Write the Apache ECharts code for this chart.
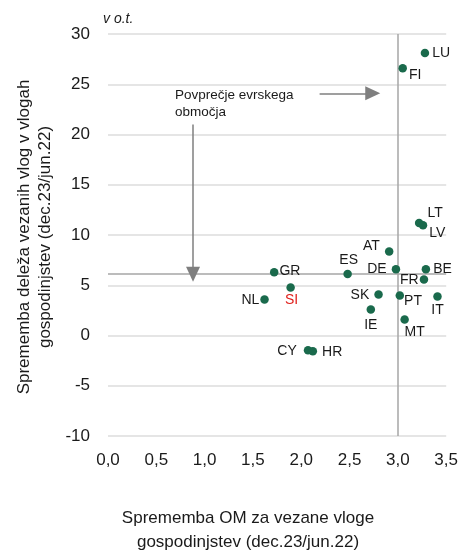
<!DOCTYPE html>
<html>
<head>
<meta charset="utf-8">
<script src="https://cdn.jsdelivr.net/npm/echarts@6/dist/echarts.min.js"></script>
<style>
html,body{margin:0;padding:0;background:#fff;}
#main{width:461px;height:553px;}
</style>
</head>
<body>
<div id="main"></div>
<script>
// ---- data ----
const countries = ['LU','FI','LT','LV','AT','ES','DE','BE','FR','GR','SI','NL','SK','PT','IT','IE','MT','CY','HR'];
const omChange = [3.28,3.05,3.22,3.26,2.91,2.48,2.98,3.29,3.27,1.72,1.89,1.62,2.80,3.02,3.41,2.72,3.07,2.07,2.12];
const shareChange = [28.1,26.6,11.2,10.97,8.36,6.13,6.6,6.6,5.57,6.3,4.78,3.58,4.08,3.98,3.88,2.59,1.59,-1.46,-1.56];
const avgOM = 3.0;
const avgShare = 6.1;
const xTickLabels = ['0,0','0,5','1,0','1,5','2,0','2,5','3,0','3,5'];
const yTickLabels = ['-10','-5','0','5','10','15','20','25','30'];
const xTitle = 'Sprememba OM za vezane vloge\ngospodinjstev (dec.23/jun.22)';
const yTitle = 'Sprememba deleža vezanih vlog v vlogah\ngospodinjstev (dec.23/jun.22)';
const unitLabel = 'v o.t.';
const annotation = 'Povprečje evrskega\nobmočja';
// annotation arrow endpoints (data coordinates)
const arrowDown = [[0.88, 21.0], [0.88, 6.1]];
const arrowRight = [[2.19, 24.1], [2.74, 24.1]];

// ---- styling / label placement ----
const FONT = 'Liberation Sans, Arial, sans-serif';
const labelPlace = {
  LU:{position:'right',distance:3,offset:[0,0]},
  FI:{position:'right',distance:2,offset:[0,7]},
  LT:{position:'right',distance:4,offset:[0,-10]},
  LV:{position:'right',distance:2,offset:[0,8]},
  AT:{position:'left',distance:5,offset:[0,-5]},
  ES:{position:'top',distance:3,offset:[1,0]},
  DE:{position:'left',distance:5,offset:[0,0]},
  BE:{position:'right',distance:3,offset:[0,0]},
  FR:{position:'left',distance:1,offset:[0,1]},
  GR:{position:'right',distance:1,offset:[0,-1]},
  SI:{position:'bottom',distance:1,offset:[1,0]},
  NL:{position:'left',distance:1,offset:[0,1]},
  SK:{position:'left',distance:5,offset:[0,1]},
  PT:{position:'right',distance:0,offset:[0,6]},
  IT:{position:'bottom',distance:2,offset:[0,0]},
  IE:{position:'bottom',distance:4,offset:[0,0]},
  MT:{position:'bottom',distance:1,offset:[10,0]},
  CY:{position:'left',distance:7,offset:[0,1]},
  HR:{position:'right',distance:5,offset:[0,1]}
};

const points = countries.map((c,i)=>{
  const p = labelPlace[c];
  return {
    name:c,
    value:[omChange[i], shareChange[i]],
    label:{show:true, formatter:c, position:p.position, distance:p.distance, offset:p.offset,
      color: c==='SI' ? '#e0201c' : '#1a1a1a'}
  };
});

const chart = echarts.init(document.getElementById('main'), null, {renderer:'canvas'});
const arrowColor = '#7f7f7f';
chart.setOption({
  animation:false,
  backgroundColor:'#fff',
  grid:{left:108, right:13, top:34, bottom:117},
  xAxis:{
    type:'value', min:0, max:3.5, interval:0.5,
    axisLine:{show:false}, axisTick:{show:false}, splitLine:{show:false},
    axisLabel:{margin:16, fontSize:17, fontFamily:FONT, color:'#1a1a1a',
      formatter:(v)=>xTickLabels[Math.round(v/0.5)]}
  },
  yAxis:{
    type:'value', min:-10, max:30, interval:5,
    axisLine:{show:false}, axisTick:{show:false},
    splitLine:{show:true, lineStyle:{color:'#dcdcdc', width:1.5}},
    axisLabel:{margin:18, fontSize:17, fontFamily:FONT, color:'#1a1a1a',
      formatter:(v)=>yTickLabels[Math.round((v+10)/5)]}
  },
  series:[
    {
      type:'scatter', symbol:'circle', symbolSize:8.5,
      itemStyle:{color:'#1a6a4c', opacity:1},
      label:{fontSize:14, fontFamily:FONT},
      data:points,
      z:5,
      markLine:{
        silent:true, symbol:['none','none'], label:{show:false},
        lineStyle:{color:'#a6a6a6', width:1.5, type:'solid'},
        data:[{xAxis:avgOM},{yAxis:avgShare}],
        z:2
      }
    },
    {
      type:'scatter', data:[], silent:true,
      markLine:{
        silent:true, symbol:['none','triangle'], symbolSize:[14,15], label:{show:false},
        lineStyle:{color:arrowColor, width:1.5, type:'solid'},
        itemStyle:{color:arrowColor},
        data:[
          [{coord:arrowDown[0]},{coord:arrowDown[1]}],
          [{coord:arrowRight[0]},{coord:arrowRight[1]}]
        ]
      }
    }
  ],
  graphic:[
    {type:'text', left:103, top:12, style:{text:unitLabel, font:'italic 14px '+FONT, fill:'#1a1a1a'}},
    {type:'text', left:175, top:87, style:{text:annotation, font:'13.5px '+FONT, fill:'#1a1a1a', lineHeight:17}},
    {type:'text', x:248, y:530, style:{text:xTitle, font:'17px '+FONT, fill:'#1a1a1a', align:'center', verticalAlign:'middle', lineHeight:24}},
    {type:'text', x:35, y:237, rotation:Math.PI/2, style:{text:yTitle, font:'17px '+FONT, fill:'#1a1a1a', align:'center', verticalAlign:'middle', lineHeight:21}}
  ]
});
</script>
</body>
</html>
